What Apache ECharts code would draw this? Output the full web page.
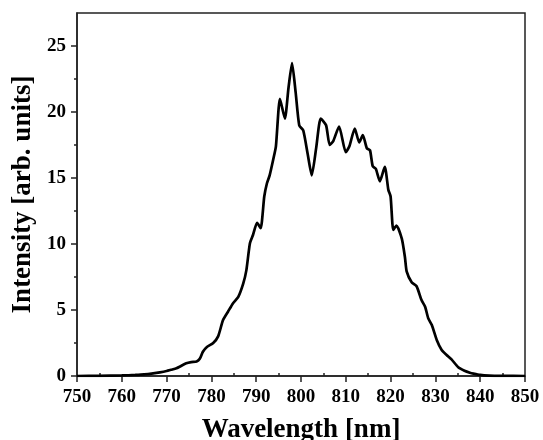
<!DOCTYPE html>
<html>
<head>
<meta charset="utf-8">
<script src="https://cdn.jsdelivr.net/npm/echarts@6/dist/echarts.min.js"></script>
<style>html,body{margin:0;padding:0;background:#fff}#c{width:543px;height:440px}</style>
</head>
<body>
<div id="c"></div>
<script>
const wavelengths = [750,755,760,763,765,767,768.5,770,771,772.2,773,774.4,775.5,776.7,777.4,778.1,779,780.4,781.5,782.6,783.7,784.8,786.0,787.1,787.8,788.6,789.3,790.2,791.0,791.8,792.4,793.0,793.8,794.4,795.3,796.4,797.2,798.0,798.8,799.6,800.5,801.5,802.4,803.4,804.4,805.6,806.4,807.2,808.5,810.0,810.8,812.0,813.0,813.8,814.7,815.4,816.0,816.7,817.6,818.7,819.5,820.0,820.6,821.3,822.5,823.2,823.6,824.7,825.8,826.9,827.7,828.4,829.2,830.3,831.4,832.5,833.6,835.1,836.5,837.7,838.5,840,842,845,850];
const intensity = [0,0.01,0.04,0.08,0.12,0.2,0.28,0.38,0.47,0.58,0.72,0.96,1.05,1.1,1.3,1.84,2.2,2.5,3.0,4.24,4.87,5.5,6.0,7.0,8.0,10.05,10.7,11.6,11.2,13.6,14.6,15.2,16.4,17.4,21.0,19.5,21.8,23.7,21.5,19.0,18.6,16.8,15.2,17.3,19.5,19.0,17.5,17.8,18.9,16.95,17.4,18.75,17.7,18.25,17.25,17.1,15.9,15.7,14.75,15.85,14.1,13.6,11.06,11.4,10.4,9.0,7.9,7.1,6.8,5.75,5.25,4.37,3.86,2.73,1.97,1.59,1.26,0.66,0.4,0.25,0.18,0.08,0.03,0.01,0];
const xMajorTicks = [750,760,770,780,790,800,810,820,830,840,850];
const xMinorTicks = [755,765,775,785,795,805,815,825,835,845];
const yMajorTicks = [0,5,10,15,20,25];
const yMinorTicks = [2.5,7.5,12.5,17.5,22.5];

const font = 'Liberation Serif';
const axisColor = '#222';
const chart = echarts.init(document.getElementById('c'));
const base = (min, max) => ({type: 'value', min, max, splitLine: {show: false}});
chart.setOption({
  animation: false,
  grid: {left: 77, right: 18, top: 13, bottom: 64, outerBoundsMode: 'none', containLabel: false, show: true, borderColor: axisColor, borderWidth: 1.5, backgroundColor: 'transparent'},
  xAxis: [
    Object.assign(base(750, 850), {
      name: 'Wavelength [nm]', nameLocation: 'middle', nameGap: 41,
      nameTextStyle: {fontFamily: font, fontWeight: 'bold', fontSize: 27, color: '#000'},
      axisLine: {show: true, lineStyle: {color: axisColor, width: 1.5}},
      axisTick: {show: true, customValues: xMajorTicks, length: 6, lineStyle: {color: axisColor, width: 1.5}},
      axisLabel: {customValues: xMajorTicks, fontFamily: font, fontWeight: 'bold', fontSize: 19, color: '#000', margin: 12}
    }),
    Object.assign(base(750, 850), {
      axisLine: {show: false},
      axisTick: {show: true, customValues: xMinorTicks, length: 3, lineStyle: {color: axisColor, width: 1.5}},
      axisLabel: {show: false}
    })
  ],
  yAxis: [
    Object.assign(base(0, 27.5), {
      name: 'Intensity [arb. units]', nameLocation: 'middle', nameGap: 40,
      nameTextStyle: {fontFamily: font, fontWeight: 'bold', fontSize: 27, color: '#000'},
      axisLine: {show: true, lineStyle: {color: axisColor, width: 1.5}},
      axisTick: {show: true, customValues: yMajorTicks, length: 6, lineStyle: {color: axisColor, width: 1.5}},
      axisLabel: {customValues: yMajorTicks, fontFamily: font, fontWeight: 'bold', fontSize: 19, color: '#000', margin: 11}
    }),
    Object.assign(base(0, 27.5), {
      position: 'left',
      axisLine: {show: false},
      axisTick: {show: true, customValues: yMinorTicks, length: 3, lineStyle: {color: axisColor, width: 1.5}},
      axisLabel: {show: false}
    })
  ],
  series: [{
    type: 'line',
    data: wavelengths.map((w, i) => [w, intensity[i]]),
    showSymbol: false,
    smooth: 0.2,
    lineStyle: {color: '#000', width: 2.7},
    xAxisIndex: 0, yAxisIndex: 0
  }]
});
</script>
</body>
</html>
